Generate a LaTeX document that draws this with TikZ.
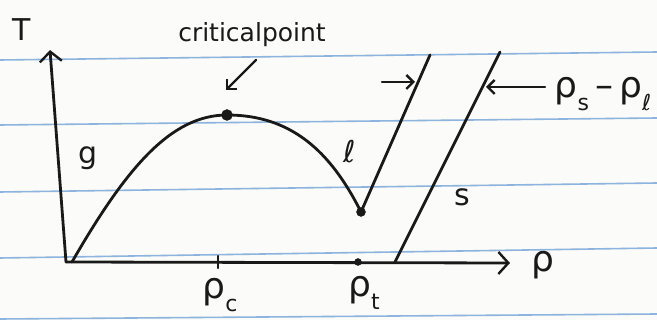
\documentclass[tikz,border=0pt]{standalone}
\usepackage{fontspec}
\setmainfont{DejaVu Sans}
\usetikzlibrary{arrows.meta,calc}
\definecolor{paper}{RGB}{251,251,249}
\definecolor{rule}{RGB}{140,180,222}
\definecolor{ink}{RGB}{25,25,25}
\newcommand{\sbx}[1]{\raisebox{-0.35em}{\fontsize{22}{24}\selectfont #1}}
\tikzset{
  ink/.style={draw=ink, line width=2.8pt, line cap=round, line join=round},
  axisarrow/.style={ink, -{Straight Barb[length=10pt,width=22pt,line width=2.4pt]}},
  smallarrow/.style={ink, line width=2.4pt, -{Straight Barb[length=7pt,width=14pt,line width=2.4pt]}},
  lbl/.style={text=ink, inner sep=0pt, font=\fontsize{30}{32}\selectfont},
  rholbl/.style={text=ink, inner sep=0pt, font=\fontsize{36}{38}\selectfont},
  dotnode/.style={circle, fill=ink, draw=ink, inner sep=0pt, minimum size=11pt},
  paperline/.style={draw=rule, line width=1.6pt}
}
\begin{document}
\begin{tikzpicture}[x=1pt,y=-1pt]
\useasboundingbox (0,0) rectangle (657,320);
\fill[paper] (0,0) rectangle (657,320);
% ruled lines
\draw[paperline] (0,60) -- (657,52);
\draw[paperline] (0,125) -- (657,118);
\draw[paperline] (0,192) -- (657,183);
\draw[paperline] (0,258) -- (657,248);
\draw[paperline] (0,319) -- (657,314);
% axes
\coordinate (O) at (66,262);
\coordinate (Ttip) at (50,50);
\coordinate (Rtip) at (510,263);
\draw[axisarrow] (O) -- (Ttip);
\draw[axisarrow] (O) -- (Rtip);
\node[lbl] (T) at (22,30) {T};
\node[rholbl] (rho) at (543,265) {ρ};
% curve
\node[dotnode] (cp) at (227,115) {};
\node[dotnode, minimum size=9pt] (tp) at (361,212) {};
\coordinate (g0) at (72,262);
\draw[ink] (g0) .. controls (125,170) and (170,115) .. (cp.center)
  .. controls (290,115) and (330,150) .. (tp.center);
\coordinate (ltop) at (430,55);
\draw[ink] (tp.center) -- (ltop);
\coordinate (sbot) at (395,262);
\coordinate (stop) at (500,52);
\draw[ink] (sbot) -- (stop);
% ticks
\coordinate (rc) at (218,262);
\draw[ink, line width=2.4pt] ($(rc)+(0,-6)$) -- ($(rc)+(0,6)$);
\node[dotnode, minimum size=7pt] (rt) at (358,262) {};
\node[rholbl] (rclbl) at (220,295) {ρ\sbx{c}};
\node[rholbl] (rtlbl) at (364,293) {ρ\sbx{t}};
% labels
\node[lbl, font=\fontsize{25}{27}\selectfont] (cplbl) at (252,35) {criticalpoint};
\coordinate (cpa) at (256,60);
\coordinate (cpb) at (226,90);
\draw[smallarrow] (cpa) -- (cpb);
\node[lbl] (g) at (88,158) {g};
\node[lbl] (l) at (350,152) {ℓ};
\node[lbl] (s) at (462,197) {s};
\coordinate (la) at (382,82);
\coordinate (lb) at (415,82);
\draw[smallarrow] (la) -- (lb);
\coordinate (sa) at (545,87);
\coordinate (sb) at (486,87);
\draw[smallarrow] (sa) -- (sb);
\node[rholbl] (diff) at (603,94) {ρ\sbx{s}\,–\,ρ\sbx{ℓ}};
\end{tikzpicture}
\end{document}
